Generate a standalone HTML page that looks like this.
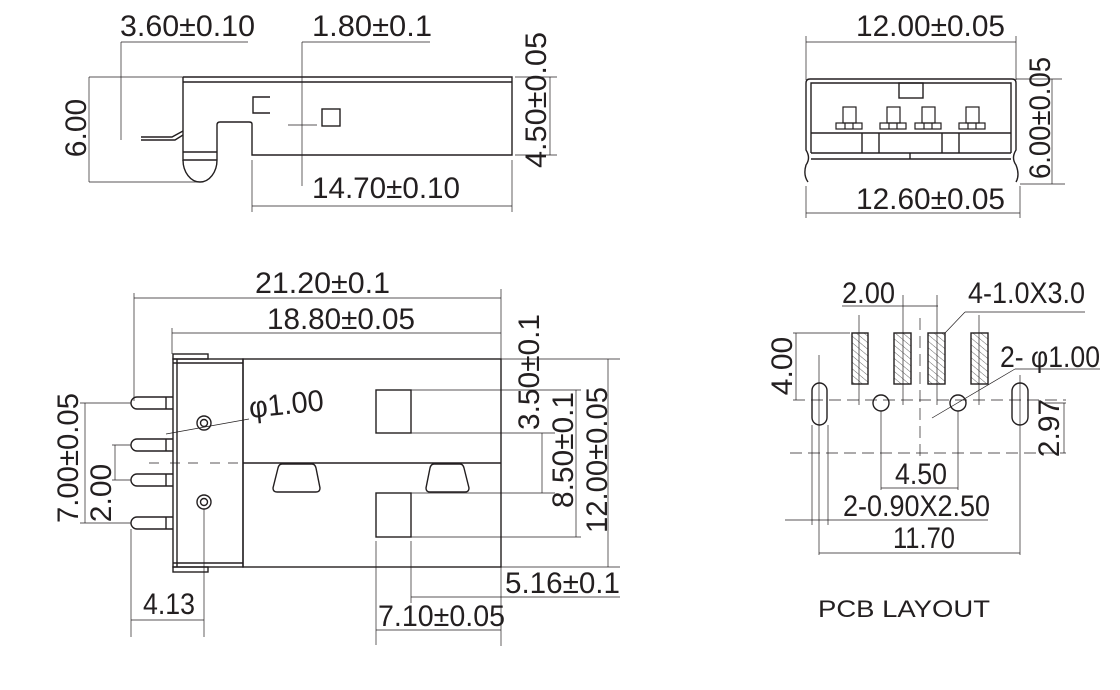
<!DOCTYPE html>
<html><head><meta charset="utf-8"><style>
html,body{margin:0;padding:0;background:#fff;}
svg{display:block;}
text{font-family:"Liberation Sans",sans-serif;fill:#231f20;}
</style></head><body>
<svg width="1120" height="690" viewBox="0 0 1120 690" xmlns="http://www.w3.org/2000/svg">
<defs>
<pattern id="h" width="5" height="5" patternUnits="userSpaceOnUse" patternTransform="rotate(-50)">
<line x1="0" y1="0" x2="0" y2="5" stroke="#666" stroke-width="1"/>
</pattern>
</defs>
<g fill="none" stroke="#231f20" stroke-width="1.4">
<!-- TOP LEFT -->
<path d="M183 77 H512 V155 H252 V124 Q252 122 249 122 H220 Q217 122 217 125 V152 M183 77 V152 H217 V160 M183 152 V160 H217"/>
<line x1="183" y1="82" x2="512" y2="82"/>
<path d="M183 160 A17 22 0 0 0 217 160"/>
<path d="M141 137 H172 L183 131 M141 140 H175 L183 135"/>
<path d="M270 97 H253 V113 H270"/>
<rect x="322" y="109" width="18" height="17"/>
<!-- TOP RIGHT -->
<path d="M808 182 Q803 175 806 165 Q811 158 806 150 V83 Q806 79 810 79 H1012 Q1016 79 1016 83 V150 Q1011 158 1016 165 Q1020 175 1016 182"/>
<path d="M811 153 V83 H1011 V153"/>
<line x1="811" y1="133" x2="1011" y2="133"/>
<line x1="811" y1="153" x2="1011" y2="153"/>
<line x1="811" y1="159" x2="1011" y2="159"/>
<path d="M862 133V153M879 133V153M942 133V153M959 133V153M910 153V159"/>
<rect x="899" y="83" width="24" height="15"/>
<g stroke-width="1.2">
<rect x="843" y="107" width="13" height="16"/><rect x="836" y="123" width="26" height="6"/><path d="M845 123V129M853 123V129"/>
<rect x="887" y="107" width="13" height="16"/><rect x="880" y="123" width="26" height="6"/><path d="M889 123V129M897 123V129"/>
<rect x="922" y="107" width="13" height="16"/><rect x="915" y="123" width="26" height="6"/><path d="M924 123V129M932 123V129"/>
<rect x="966" y="107" width="13" height="16"/><rect x="959" y="123" width="26" height="6"/><path d="M968 123V129M976 123V129"/>
</g>
<!-- BOTTOM LEFT -->
<rect x="173" y="359" width="70" height="208"/>
<line x1="177" y1="359" x2="177" y2="567"/>
<rect x="173" y="354" width="35" height="5"/>
<rect x="173" y="567" width="35" height="5"/>
<line x1="173" y1="363" x2="243" y2="363"/>
<line x1="173" y1="563" x2="243" y2="563"/>
<rect x="243" y="359" width="258" height="208"/>
<line x1="243" y1="463" x2="501" y2="463"/>
<g>
<path d="M173 397 H137 A6 6 0 0 0 137 409 H173 M166 397 V409"/>
<path d="M173 439 H137 A6 6 0 0 0 137 451 H173 M166 439 V451"/>
<path d="M173 474 H137 A6 6 0 0 0 137 486 H173 M166 474 V486"/>
<path d="M173 517 H137 A6 6 0 0 0 137 529 H173 M166 517 V529"/>
</g>
<circle cx="204" cy="423" r="7"/><circle cx="204" cy="423" r="3.5"/>
<circle cx="204" cy="502" r="7"/><circle cx="204" cy="502" r="3.5"/>
<rect x="376" y="390" width="35" height="43"/>
<rect x="376" y="493" width="35" height="44"/>
<path d="M282 464 H312 Q315 464 316 468 L320 488 Q320 492 316 492 H277 Q273 492 273 488 L278 468 Q279 464 282 464Z"/>
<path d="M434 464 H460 Q463 464 464 468 L469 488 Q469 492 465 492 H430 Q426 492 426 488 L430 468 Q431 464 434 464Z"/>
<!-- PCB -->
<rect x="852" y="333" width="16" height="51" fill="url(#h)"/>
<rect x="894" y="333" width="17" height="51" fill="url(#h)"/>
<rect x="928" y="333" width="17" height="51" fill="url(#h)"/>
<rect x="971" y="333" width="17" height="51" fill="url(#h)"/>
<rect x="812" y="383" width="15" height="42" rx="7.5"/>
<rect x="1012" y="383" width="16" height="42" rx="8"/>
<circle cx="881" cy="403" r="8"/>
<circle cx="958" cy="403" r="8"/>
</g>
<!-- thin dimension lines -->
<g fill="none" stroke="#231f20" stroke-width="0.7">
<path d="M121 42H248M121 42V140M302 42H430M302 42V186M89 77V182M89 77H183M89 182H200M515 77H557M515 155H557M550 77V155M252 160V212M512 160V212M252 206H512M288 125H317"/>
<path d="M806 42H1016M806 36V80M1016 36V80M1016 79H1062M1020 184H1065M1052 79V184M806 213H1020M806 186V218M1020 186V218"/>
<path d="M134 298H501M134 293V401M501 289V646M172 333H501M172 328V354M243 359H620M501 567H620M411 390H581M411 433H555M411 493H555M411 537H581M542 433V493M576 390V537M608 359V567M411 597H620M411 541V603M376 630H501M376 541V645M131 620H204M131 529V637M204 509V637M85 403V523M80 403H131M80 523H131M115 445V480M112 445H131M112 480H131M166 434L249 419"/>
<path d="M149 463H160M170 463H200M210 463H243" stroke-dasharray="10 8"/>
<path d="M796 333V400M793 333H850M842 306H938M965 312H1085M965 312L945 333M1015 369H1100M1015 369L932 418M859 315V405M903 295V405M937 295V405M979 315V405M881 411V490M958 411V490M819 355V555M1020 375V555M812 425V525M828 425V525M1064 403V453M1040 403H1066M881 488H958M785 520H988M819 553H1020"/>
<path d="M793 400H1066M790 453H1066M920 318V460" stroke-dasharray="12 6"/>
</g>
<!-- labels -->
<g font-size="30">
<text x="120" y="36" textLength="135" lengthAdjust="spacingAndGlyphs">3.60±0.10</text>
<text x="312" y="36" textLength="120" lengthAdjust="spacingAndGlyphs">1.80±0.1</text>
<text x="312" y="198" textLength="148" lengthAdjust="spacingAndGlyphs">14.70±0.10</text>
<text transform="translate(86,128) rotate(-90)" text-anchor="middle">6.00</text>
<text transform="translate(546,100) rotate(-90)" x="-68" textLength="136" lengthAdjust="spacingAndGlyphs">4.50±0.05</text>
<text x="856" y="36" textLength="149" lengthAdjust="spacingAndGlyphs">12.00±0.05</text>
<text x="856" y="209" textLength="149" lengthAdjust="spacingAndGlyphs">12.60±0.05</text>
<text transform="translate(1050,118) rotate(-90)" x="-61" textLength="122" lengthAdjust="spacingAndGlyphs">6.00±0.05</text>
<text x="255" y="293" textLength="135" lengthAdjust="spacingAndGlyphs">21.20±0.1</text>
<text x="267" y="329" textLength="148" lengthAdjust="spacingAndGlyphs">18.80±0.05</text>
<text transform="translate(250,418) rotate(-6)" textLength="75" lengthAdjust="spacingAndGlyphs">φ1.00</text>
<text transform="translate(539,372) rotate(-90)" x="-58" textLength="116" lengthAdjust="spacingAndGlyphs">3.50±0.1</text>
<text transform="translate(573,450) rotate(-90)" x="-58" textLength="116" lengthAdjust="spacingAndGlyphs">8.50±0.1</text>
<text transform="translate(607,460) rotate(-90)" x="-73" textLength="146" lengthAdjust="spacingAndGlyphs">12.00±0.05</text>
<text x="505" y="593" textLength="115" lengthAdjust="spacingAndGlyphs">5.16±0.1</text>
<text x="378" y="626" textLength="127" lengthAdjust="spacingAndGlyphs">7.10±0.05</text>
<text x="143" y="614" textLength="52" lengthAdjust="spacingAndGlyphs">4.13</text>
<text transform="translate(78,458) rotate(-90)" x="-65" textLength="130" lengthAdjust="spacingAndGlyphs">7.00±0.05</text>
<text transform="translate(111,493) rotate(-90)" text-anchor="middle">2.00</text>
<text x="842" y="303" textLength="53" lengthAdjust="spacingAndGlyphs">2.00</text>
<text x="968" y="303" textLength="117" lengthAdjust="spacingAndGlyphs">4-1.0X3.0</text>
<text x="1000" y="367" textLength="100" lengthAdjust="spacingAndGlyphs">2- φ1.00</text>
<text transform="translate(792,366) rotate(-90)" text-anchor="middle">4.00</text>
<text transform="translate(1059,428) rotate(-90)" text-anchor="middle">2.97</text>
<text x="895" y="484" textLength="52" lengthAdjust="spacingAndGlyphs">4.50</text>
<text x="843" y="516" textLength="147" lengthAdjust="spacingAndGlyphs">2-0.90X2.50</text>
<text x="893" y="548" textLength="62" lengthAdjust="spacingAndGlyphs">11.70</text>
</g>
<text x="818" y="617" font-size="24" textLength="172" lengthAdjust="spacingAndGlyphs">PCB LAYOUT</text>
</svg>
</body></html>
